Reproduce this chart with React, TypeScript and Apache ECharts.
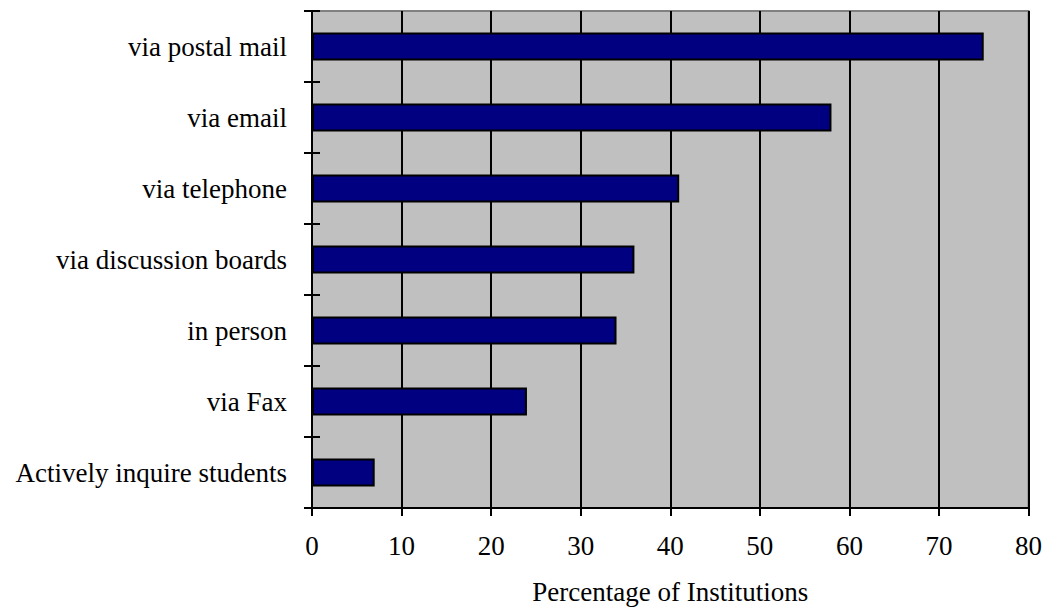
import React, { useEffect, useRef } from "react";
import * as echarts from "echarts";

// Ways institutions contact students, as % of institutions
const categories = [
  "via postal mail",
  "via email",
  "via telephone",
  "via discussion boards",
  "in person",
  "via Fax",
  "Actively inquire students",
];
const percentages = [75, 58, 41, 36, 34, 24, 7];
const xTicks = [0, 10, 20, 30, 40, 50, 60, 70, 80];

const FONT = "'Liberation Serif', 'Times New Roman', serif";
const FS = 27;

export default function App() {
  const ref = useRef<HTMLDivElement>(null);

  useEffect(() => {
    if (!ref.current) return;
    const chart = echarts.init(ref.current, null, { renderer: "svg" });
    const baseY = {
      type: "category" as const,
      data: categories,
      inverse: true,
      position: "left" as const,
      boundaryGap: true,
      axisLine: { show: true, lineStyle: { color: "#000", width: 2 } },
      splitLine: { show: false },
    };
    chart.setOption({
      animation: false,
      backgroundColor: "#fff",
      grid: {
        left: 312,
        right: 16,
        top: 11,
        bottom: 98,
        show: true,
        backgroundColor: "#C0C0C0",
        borderColor: "#808080",
        borderWidth: 2,
      },
      xAxis: {
        type: "value",
        min: xTicks[0],
        max: xTicks[xTicks.length - 1],
        interval: 10,
        name: "Percentage of Institutions",
        nameLocation: "middle",
        nameGap: 70,
        nameTextStyle: { fontFamily: FONT, fontSize: FS, color: "#000" },
        axisLine: { show: true, onZero: false, lineStyle: { color: "#000", width: 2 } },
        axisTick: { show: true, length: 8, lineStyle: { color: "#000", width: 2 } },
        axisLabel: { fontFamily: FONT, fontSize: FS, color: "#000", margin: 24 },
        splitLine: { show: true, lineStyle: { color: "#000", width: 2 } },
      },
      yAxis: [
        {
          ...baseY,
          axisTick: { show: true, length: 8, lineStyle: { color: "#000", width: 2 } },
          axisLabel: { fontFamily: FONT, fontSize: FS, color: "#000", margin: 25 },
        },
        {
          ...baseY,
          axisTick: { show: true, inside: true, length: 8, lineStyle: { color: "#000", width: 2 } },
          axisLabel: { show: false },
        },
      ],
      series: [
        {
          type: "bar",
          yAxisIndex: 0,
          data: percentages,
          barWidth: 28,
          itemStyle: { color: "#000080", borderColor: "#000", borderWidth: 2 },
        },
      ],
    });
    return () => chart.dispose();
  }, []);

  return <div ref={ref} style={{ width: 1045, height: 610, position: "absolute", left: 0, top: 0 }} />;
}
